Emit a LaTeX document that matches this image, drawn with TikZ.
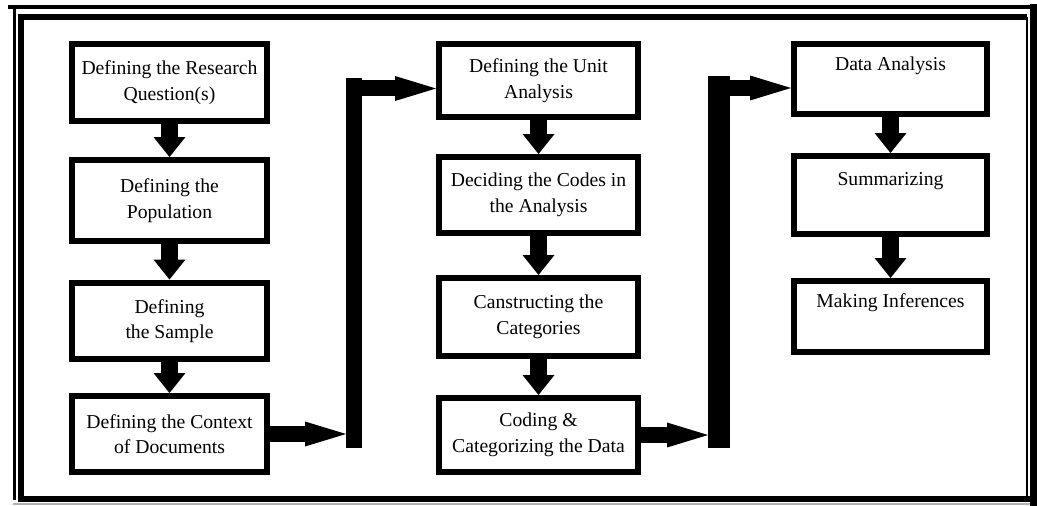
\documentclass[tikz,border=0pt]{standalone}
\usepackage{fontspec}
\setmainfont{Liberation Serif}
\usetikzlibrary{arrows.meta}

\begin{document}
\begin{tikzpicture}[x=0.02cm,y=-0.02cm,
    box/.style={draw,line width=0.12cm,minimum width=3.92cm,minimum height=1.54cm,
      align=center,inner sep=1pt,font=\fontsize{11.2}{14.6}\selectfont},
    topline/.style={text depth=18pt},
    down/.style={line width=0.34cm,-{Triangle[width=0.64cm,length=0.4cm,line width=0pt]}},
    side/.style={line width=0.32cm,-{Triangle[width=0.5cm,length=0.82cm,line width=0pt]}}]
  \useasboundingbox (0,0) rectangle (1037,506);

  % double page frame
  \draw[line width=0.08cm] (8,7) -- (1037,7);
  \draw[line width=0.06cm] (14.5,7) -- (14.5,500);
  \draw[line width=0.12cm] (1027,17) -- (21,17) -- (21,499) -- (1031,499);
  \draw[line width=0.04cm] (1027,17) -- (1027,499);
  \draw[line width=0.14cm] (1033.5,4) -- (1033.5,506);
  \draw[line width=0.03cm,gray!60] (13,504) -- (1030,504);

  \node[box,minimum width=3.9cm] (rq) at (169.5,82.5) {Defining the Research\\Question(s)};
  \node[box,minimum width=3.9cm,minimum height=1.62cm] (pop) at (169.5,200.5) {Defining the\\Population};
  \node[box,minimum width=3.9cm] (smp) at (169.5,321) {Defining\\the Sample};
  \node[box,minimum width=3.9cm,minimum height=1.52cm] (ctx) at (169.5,434) {Defining the Context\\of Documents};

  \node[box,minimum width=3.98cm,minimum height=1.46cm] (unit) at (538.5,80.5) {Defining the Unit\\Analysis};
  \node[box,minimum width=3.98cm,minimum height=1.52cm] (codes) at (538.5,195) {Deciding the Codes in\\the Analysis};
  \node[box,minimum width=3.98cm,minimum height=1.56cm] (cat) at (538.5,317) {Canstructing the\\Categories};
  \node[box,minimum width=3.98cm,minimum height=1.48cm] (cod) at (538.5,435) {Coding \&\\Categorizing the Data};

  \node[box,topline,minimum width=3.86cm,minimum height=1.4cm] (ana) at (890.5,79) {Data Analysis};
  \node[box,topline,minimum width=3.86cm,minimum height=1.56cm] (sum) at (890.5,195) {Summarizing};
  \node[box,topline,minimum width=3.86cm,minimum height=1.42cm] (inf) at (890.5,316.5) {Making Inferences};

  \draw[down] (rq) -- (pop);
  \draw[down] (pop) -- (smp);
  \draw[down] (smp) -- (ctx);
  \draw[down] (unit) -- (codes);
  \draw[down] (codes) -- (cat);
  \draw[down] (cat) -- (cod);
  \draw[down] (ana) -- (sum);
  \draw[down] (sum) -- (inf);

  % elbow connectors between the columns
  \coordinate (b1s) at (354,448);
  \coordinate (b1n) at (354,78);
  \coordinate (b2s) at (719,448);
  \coordinate (b2n) at (719,76);
  \draw[line width=0.32cm] (b1s) -- (b1n);
  \draw[line width=0.44cm] (b2s) -- (b2n);
  \draw[side] (ctx.east) -- ([xshift=-0.16cm]ctx.east -| b1s);
  \draw[side] ([yshift=-0.16cm]b1n |- unit.west) -- ([yshift=-0.16cm]unit.west);
  \draw[side] (cod.east) -- ([xshift=-0.22cm]cod.east -| b2s);
  \draw[side] ([yshift=-0.18cm]b2n |- ana.west) -- ([yshift=-0.18cm]ana.west);
\end{tikzpicture}
\end{document}
